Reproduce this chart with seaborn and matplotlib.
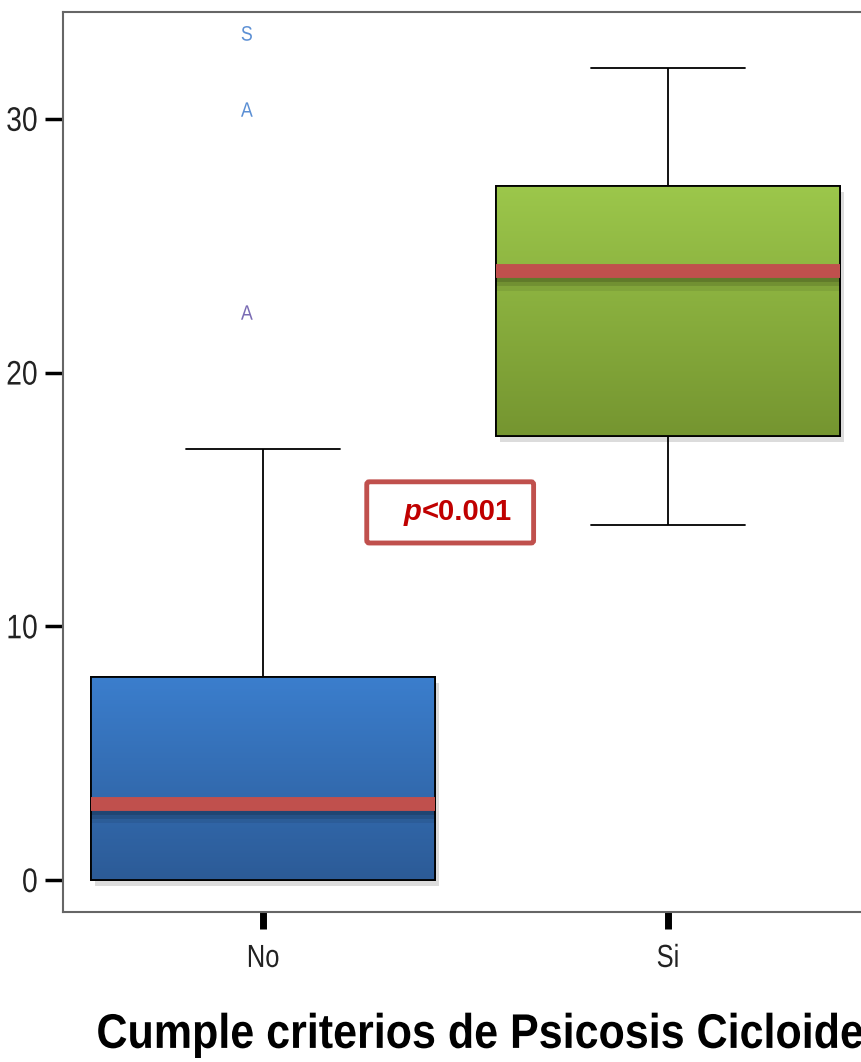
import numpy as np
import pandas as pd
import matplotlib
matplotlib.use("Agg")
import matplotlib.pyplot as plt
import matplotlib.patheffects as pe
from matplotlib.transforms import Affine2D
from matplotlib.colors import LinearSegmentedColormap
from matplotlib.patches import PathPatch, FancyBboxPatch
import seaborn as sns

# grupos y resumen de cada caja: bigote inf, Q1, mediana, Q3, bigote sup
grupos = ["No", "Si"]
resumen_no = [0, 0, 3, 8, 17]
resumen_si = [14, 17.5, 24, 27.35, 32]
# valores extremos del grupo "No" y su etiqueta
atipicos = [22.3, 30.3, 33.3]
atipicos_txt = ["A", "A", "S"]
atipicos_col = ["#7a6cb4", "#5b8fd4", "#5b8fd4"]

colores_arriba = ["#3b7ecd", "#9cc74b"]
colores_abajo = ["#2c5b97", "#759530"]

df = pd.DataFrame({"criterio": np.repeat(grupos, 5),
                   "valor": resumen_no + resumen_si})


class Estrecho(pe.AbstractPathEffect):
    # comprime el texto en horizontal (no hay Arial Narrow)
    def __init__(self, sx, ancla="center"):
        super().__init__()
        self.sx = sx
        self.ancla = ancla

    def draw_path(self, renderer, gc, tpath, affine, rgbFace=None):
        ext = tpath.get_extents(affine)
        if self.ancla == "left":
            x0 = ext.x0
        elif self.ancla == "right":
            x0 = ext.x1
        else:
            x0 = (ext.x0 + ext.x1) / 2
        t = affine + Affine2D().translate(-x0, 0).scale(self.sx, 1).translate(x0, 0)
        renderer.draw_path(gc, tpath, t, rgbFace)


sns.set_style("white")
plt.rcParams['font.family'] = ['Liberation Sans', 'DejaVu Sans']

fig = plt.figure(figsize=(8.62, 10.62), dpi=100)
ax = fig.add_axes([63/862, 150/1062, 810/862, 900/1062])

sns.boxplot(data=df, x="criterio", y="valor", hue="criterio",
            palette=colores_abajo, width=0.85, linecolor="black",
            linewidth=1.3, showfliers=False, legend=False, ax=ax,
            medianprops=dict(color="#c0504d", linewidth=10, solid_capstyle="butt"))

# relleno degradado de las cajas
for p in list(ax.patches):
    ext = p.get_path().get_extents()
    k = 0 if ext.x0 + ext.width / 2 < 0.5 else 1
    p.set_path_effects([pe.SimplePatchShadow(offset=(3, -4), shadow_rgbFace="#777777", alpha=0.25),
                        pe.Normal()])
    p.set_zorder(2)
    cmap = LinearSegmentedColormap.from_list("g", [colores_abajo[k], colores_arriba[k]])
    grad = np.linspace(0, 1, 256).reshape(-1, 1)
    im = ax.imshow(grad, extent=[ext.x0, ext.x1, ext.y0, ext.y1], origin="lower",
                   aspect="auto", cmap=cmap, zorder=2.1)
    im.set_clip_path(p)
    ax.add_patch(PathPatch(p.get_path(), fc="none", ec="black", lw=1.3, zorder=2.2))

for ln in ax.lines:
    xd, yd = np.asarray(ln.get_xdata(), float), np.asarray(ln.get_ydata(), float)
    if ln.get_color() == "#c0504d":
        ln.set_zorder(3)
        ln.set_path_effects([pe.SimpleLineShadow(offset=(0, -9), shadow_color="black", alpha=0.08),
                             pe.SimpleLineShadow(offset=(0, -6), shadow_color="black", alpha=0.12),
                             pe.SimpleLineShadow(offset=(0, -3), shadow_color="black", alpha=0.15),
                             pe.Normal()])
    elif len(xd) == 2 and yd[0] == yd[1] and xd[0] != xd[1]:
        # bigotes cortos como en SPSS
        c = xd.mean()
        ln.set_xdata([c - 0.19, c + 0.19])

for y, t, c in zip(atipicos, atipicos_txt, atipicos_col):
    ax.text(-0.04, y, t, ha="center", va="center", fontsize=15, color=c,
            path_effects=[Estrecho(0.85)])

ax.add_patch(FancyBboxPatch((0.375, 0.41), 0.206, 0.068, boxstyle="round,pad=0,rounding_size=0.003",
                            transform=ax.transAxes, fc="white", ec="#c0504d", lw=3.5, zorder=4))
t1 = ax.text(0.4205, 0.444, "p", transform=ax.transAxes, ha="left", va="center",
             fontsize=21, fontweight="bold", fontstyle="italic", color="#c00000", zorder=5)
ax.annotate("<0.001", xy=(1, 0), xycoords=t1, ha="left", va="bottom",
            fontsize=21, fontweight="bold", color="#c00000", zorder=5)

ax.set_xlim(-0.494, 1.506)
ax.set_ylim(-1.26, 34.21)
ax.set_yticks([0, 10, 20, 30])
ax.set_ylabel("")
ax.set_xlabel("Cumple criterios de Psicosis Cicloide", fontsize=35, fontweight="bold",
              ha="left", va="baseline", color="black")
ax.xaxis.set_label_coords(0.041, -0.151)
ax.xaxis.label.set_path_effects([Estrecho(0.885, "left")])

ax.tick_params(axis="y", left=True, length=13, width=2.5, pad=5, labelsize=24.5, colors="black",
               labelcolor="#222222")
ax.tick_params(axis="x", bottom=True, length=12, width=5, pad=11, labelsize=23, colors="black",
               labelcolor="#222222")
for lbl in ax.get_yticklabels():
    lbl.set_path_effects([Estrecho(0.83, "right")])
for lbl in ax.get_xticklabels():
    lbl.set_path_effects([Estrecho(0.8)])
for s in ax.spines.values():
    s.set_color("#666666")
    s.set_linewidth(1.5)

fig.savefig("out.png", dpi=100)
